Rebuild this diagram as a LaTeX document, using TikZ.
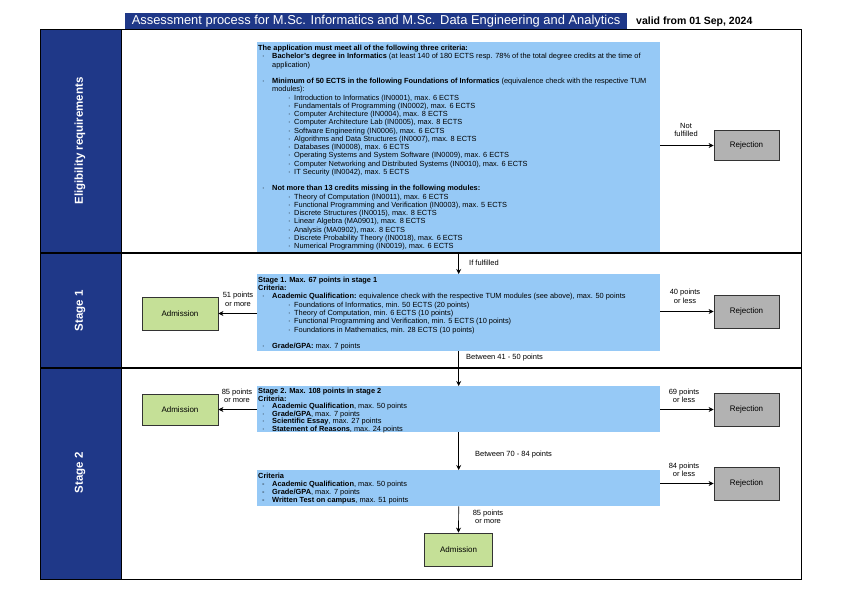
\documentclass[tikz,border=0pt]{standalone}
\usepackage{fontspec}
\setmainfont{Liberation Sans}
\usetikzlibrary{arrows.meta}
\definecolor{dkblue}{RGB}{31,56,136}
\definecolor{ltblue}{RGB}{150,201,246}
\definecolor{admgreen}{RGB}{197,224,151}
\definecolor{rejgray}{RGB}{178,178,178}
\newcommand{\BulA}{\hspace*{4pt}\makebox[10pt][l]{·}}
\newcommand{\BulB}{\hspace*{30pt}\makebox[6pt][l]{·}}
\newcommand{\DashA}{\hspace*{4pt}\makebox[10pt][l]{-}}
\newcommand{\ContA}{\hspace*{14pt}}
\begin{document}
\begin{tikzpicture}[x=1pt,y=-1pt,
  boxtext/.style={anchor=north west, inner sep=0pt, font=\fontsize{7.4}{8.25}\selectfont, align=left},
  infobox/.style={fill=ltblue, draw=none, anchor=north west, inner sep=0pt},
  admbox/.style={fill=admgreen, draw=black!80, line width=0.8pt, minimum width=76pt, minimum height=32pt, inner sep=0pt, font=\fontsize{8}{9}\selectfont},
  rejbox/.style={fill=rejgray, draw=black!80, line width=0.8pt, minimum width=65pt, minimum height=32pt, inner sep=0pt, font=\fontsize{8}{9}\selectfont},
  arr/.style={-{Stealth[length=5pt,width=5pt]}, line width=0.7pt},
  lbl/.style={font=\fontsize{7.5}{8.5}\selectfont, align=center, inner sep=0pt},
  side/.style={rotate=90, text=white, font=\bfseries\fontsize{11.5}{13}\selectfont},
]
\useasboundingbox (0,0) rectangle (842,595);
\fill[white] (0,0) rectangle (842,595);

% title
\node[fill=dkblue, minimum width=502pt, minimum height=16pt, inner sep=0pt, text=white, font=\fontsize{12.9}{14}\selectfont] (title) at (376,21) {Assessment process for M.Sc. Informatics and M.Sc. Data Engineering and Analytics};
\node[anchor=west, inner sep=0pt, font=\bfseries\fontsize{10.5}{12}\selectfont] (valid) at (636,21.5) {valid from 01 Sep, 2024};

% left column
\fill[dkblue] (40,29) rectangle (121,253);
\fill[dkblue] (40,253) rectangle (121,368);
\fill[dkblue] (40,368) rectangle (121,579);
\node[side] (sideA) at (80,141) {Eligibility requirements};
\node[side] (sideB) at (80,311) {Stage 1};
\node[side] (sideC) at (80,473) {Stage 2};

% info boxes
\node[infobox, minimum width=403pt, minimum height=210pt] (elig) at (257,42) {};
\node[boxtext] (eligtxt) at (258,45) {%
\textbf{The application must meet all of the following three criteria:}\\
\BulA\textbf{Bachelor's degree in Informatics} (at least 140 of 180 ECTS resp. 78\% of the total degree credits at the time of\\
\ContA application)\\[8.25pt]
\BulA\textbf{Minimum of 50 ECTS in the following Foundations of Informatics} (equivalence check with the respective TUM\\
\ContA modules):\\
\BulB Introduction to Informatics (IN0001), max. 6 ECTS\\
\BulB Fundamentals of Programming (IN0002), max. 6 ECTS\\
\BulB Computer Architecture (IN0004), max. 8 ECTS\\
\BulB Computer Architecture Lab (IN0005), max. 8 ECTS\\
\BulB Software Engineering (IN0006), max. 6 ECTS\\
\BulB Algorithms and Data Structures (IN0007), max. 8 ECTS\\
\BulB Databases (IN0008), max. 6 ECTS\\
\BulB Operating Systems and System Software (IN0009), max. 6 ECTS\\
\BulB Computer Networking and Distributed Systems (IN0010), max. 6 ECTS\\
\BulB IT Security (IN0042), max. 5 ECTS\\[8.25pt]
\BulA\textbf{Not more than 13 credits missing in the following modules:}\\
\BulB Theory of Computation (IN0011), max. 6 ECTS\\
\BulB Functional Programming and Verification (IN0003), max. 5 ECTS\\
\BulB Discrete Structures (IN0015), max. 8 ECTS\\
\BulB Linear Algebra (MA0901), max. 8 ECTS\\
\BulB Analysis (MA0902), max. 8 ECTS\\
\BulB Discrete Probability Theory (IN0018), max. 6 ECTS\\
\BulB Numerical Programming (IN0019), max. 6 ECTS};

\node[infobox, minimum width=403pt, minimum height=77pt] (st1) at (257,274) {};
\node[boxtext, font=\fontsize{7.4}{8.35}\selectfont] (st1txt) at (258,276.5) {%
\textbf{Stage 1. Max. 67 points in stage 1}\\
\textbf{Criteria:}\\
\BulA\textbf{Academic Qualification:} equivalence check with the respective TUM modules (see above), max. 50 points\\
\BulB Foundations of Informatics, min. 50 ECTS (20 points)\\
\BulB Theory of Computation, min. 6 ECTS (10 points)\\
\BulB Functional Programming and Verification, min. 5 ECTS (10 points)\\
\BulB Foundations in Mathematics, min. 28 ECTS (10 points)\\[8.35pt]
\BulA\textbf{Grade/GPA:} max. 7 points};

\node[infobox, minimum width=403pt, minimum height=46pt] (st2) at (257,386) {};
\node[boxtext, font=\fontsize{7.4}{7.6}\selectfont] (st2txt) at (258,388) {%
\textbf{Stage 2. Max. 108 points in stage 2}\\
\textbf{Criteria:}\\
\BulA\textbf{Academic Qualification}, max. 50 points\\
\BulA\textbf{Grade/GPA}, max. 7 points\\
\BulA\textbf{Scientific Essay}, max. 27 points\\
\BulA\textbf{Statement of Reasons}, max. 24 points};

\node[infobox, minimum width=403pt, minimum height=36pt] (st3) at (257,470) {};
\node[boxtext, font=\fontsize{7.4}{8}\selectfont] (st3txt) at (258,472.5) {%
\textbf{Criteria}\\
\DashA\textbf{Academic Qualification}, max. 50 points\\
\DashA\textbf{Grade/GPA}, max. 7 points\\
\DashA\textbf{Written Test on campus}, max. 51 points};

% outcome boxes
\node[rejbox, minimum height=30pt] (rej0) at (746.5,145.5) {Rejection};
\node[admbox, minimum height=33pt] (adm1) at (180,313.5) {Admission};
\node[rejbox, minimum height=33pt] (rej1) at (746.5,311.5) {Rejection};
\node[admbox, minimum height=31pt] (adm2) at (180,409.5) {Admission};
\node[rejbox, minimum height=33pt] (rej2) at (746.5,409.5) {Rejection};
\node[rejbox, minimum height=33pt] (rej3) at (746.5,483.5) {Rejection};
\node[admbox, minimum width=68pt, minimum height=33pt] (adm3) at (458.5,549.5) {Admission};

% frame and separators
\draw[line width=0.8pt] (40,29) rectangle (801,579);
\draw[line width=0.6pt] (121,29) -- (121,579);
\draw[line width=1.5pt] (40,253) -- (801,253);
\draw[line width=1.5pt] (40,368) -- (801,368);

% connectors
\draw[arr] (elig.east |- rej0.west) -- (rej0.west);
\draw[arr] (elig.south) -- (st1.north);
\draw[arr] (st1.west |- adm1.east) -- (adm1.east);
\draw[arr] (st1.east |- rej1.west) -- (rej1.west);
\draw[arr] (st1.south) -- (st2.north);
\draw[arr] (st2.west |- adm2.east) -- (adm2.east);
\draw[arr] (st2.east |- rej2.west) -- (rej2.west);
\draw[arr] (st2.south) -- (st3.north);
\draw[arr] (st3.east |- rej3.west) -- (rej3.west);
\draw[arr] (st3.south) -- (adm3.north);

% labels
\node[lbl] (l0) at (686,130) {Not\\fulfilled};
\node[lbl, anchor=west] (l1) at (469,263) {If fulfilled};
\node[lbl] (l2) at (238,299.5) {51 points\\or more};
\node[lbl] (l3) at (685,296.5) {40 points\\or less};
\node[lbl, anchor=west] (l4) at (466,358) {Between 41 - 50 points};
\node[lbl] (l5) at (237,396) {85 points\\or more};
\node[lbl] (l6) at (684,396) {69 points\\or less};
\node[lbl, anchor=west] (l7) at (475,455) {Between 70 - 84 points};
\node[lbl] (l8) at (684,470) {84 points\\or less};
\node[lbl] (l9) at (488,517) {85 points\\or more};
\end{tikzpicture}
\end{document}
